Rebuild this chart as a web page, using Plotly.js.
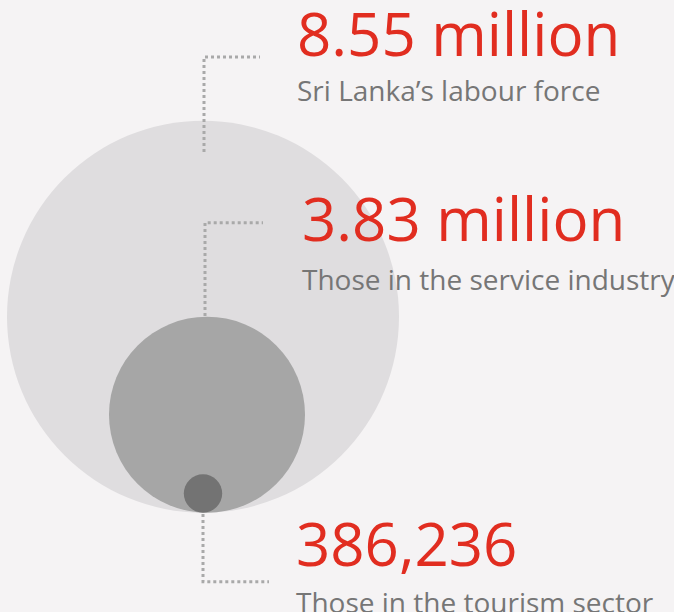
<!DOCTYPE html>
<html>
<head>
<meta charset="utf-8">
<script src="https://cdn.plot.ly/plotly-3.0.1.min.js"></script>
<style>html,body{margin:0;padding:0;background:#f5f3f4;}#chart{width:674px;height:612px;}</style>
</head>
<body>
<div id="chart"></div>
<script>
// ---- data ----
const categories = ["Sri Lanka\u2019s labour force", "Those in the service industry", "Those in the tourism sector"];
const valueLabels = ["8.55 million", "3.83 million", "386,236"];
const values = [8550000, 3830000, 386236];

// ---- geometry / style (pixel-space layout of the infographic) ----
const W = 674, H = 612;
const circleCX = [203, 207, 203];
const circleR = [196, 98, 19.2];
const baseY = 512.7;
const circleFill = ["#dfdddf", "#a6a6a6", "#737373"];
const connectors = [
  {x: 204, yStart: 152, yEnd: 57, xEnd: 260},
  {x: 205, yStart: 316, yEnd: 222.7, xEnd: 263},
  {x: 203, yStart: 514, yEnd: 581.7, xEnd: 269}
];
const labelPos = [
  {x: 296, yVal: 33, ySub: 90},
  {x: 300.5, yVal: 218, ySub: 278.5},
  {x: 295, yVal: 543, ySub: 602}
];
const RED = "#e12d20", GREY = "#767676", DOT = "#a9a9a9";

const shapes = [];
values.forEach((v, i) => {
  const r = circleR[i], cx = circleCX[i], cy = baseY - r;
  shapes.push({type: "circle", xref: "x", yref: "y", x0: cx - r, x1: cx + r, y0: cy - r, y1: cy + r,
    fillcolor: circleFill[i], line: {width: 0}, layer: "below"});
});
connectors.forEach(c => {
  shapes.push({type: "path", xref: "x", yref: "y",
    path: `M ${c.x},${c.yStart} L ${c.x},${c.yEnd} L ${c.xEnd},${c.yEnd}`,
    line: {color: DOT, width: 3, dash: "3px,3px"}, layer: "above"});
});

const annotations = [];
values.forEach((v, i) => {
  annotations.push({x: labelPos[i].x, y: labelPos[i].yVal, xref: "x", yref: "y", text: valueLabels[i],
    showarrow: false, xanchor: "left", yanchor: "middle", borderpad: 0,
    font: {family: "Open Sans", size: 60, color: RED}});
  annotations.push({x: labelPos[i].x, y: labelPos[i].ySub, xref: "x", yref: "y", text: categories[i],
    showarrow: false, xanchor: "left", yanchor: "middle", borderpad: 0,
    font: {family: "Open Sans", size: 28, color: GREY}});
});

const layout = {
  width: W, height: H,
  margin: {l: 0, r: 0, t: 0, b: 0, pad: 0},
  paper_bgcolor: "#f5f3f4", plot_bgcolor: "#f5f3f4",
  xaxis: {range: [0, W], visible: false, fixedrange: true},
  yaxis: {range: [H, 0], visible: false, fixedrange: true},
  showlegend: false,
  shapes: shapes,
  annotations: annotations
};
Plotly.newPlot("chart", [{x: [], y: [], type: "scatter", mode: "markers", hoverinfo: "skip"}], layout, {displayModeBar: false, staticPlot: true});
</script>
</body>
</html>
